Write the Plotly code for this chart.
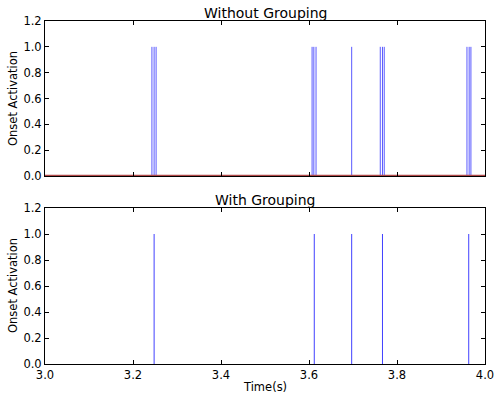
import plotly.graph_objects as go

# Onset times (s) detected without grouping
onsets_ungrouped = [3.243, 3.248, 3.2525,
                    3.607, 3.611, 3.616,
                    3.697,
                    3.762, 3.767, 3.771,
                    3.959, 3.964, 3.968]
# Onset times (s) after grouping
onsets_grouped = [3.248, 3.612, 3.697, 3.767, 3.963]
onset_value = 1.0

# Zero-valued activation baseline (red) in the top panel
baseline_times = [3.0, 4.0]
baseline_values = [0.0, 0.0]

x_ticks = [3.0, 3.2, 3.4, 3.6, 3.8, 4.0]
y_ticks = [0.0, 0.2, 0.4, 0.6, 0.8, 1.0, 1.2]


def stems(times, value):
    xs, ys = [], []
    for t in times:
        xs += [t, t, None]
        ys += [0, value, None]
    return xs, ys


W, H = 496, 396
xdom = [45 / W, 485 / W]
ydom_top = [1 - 176 / H, 1 - 21 / H]
ydom_bot = [1 - 364 / H, 1 - 208 / H]

fig = go.Figure()

xs, ys = stems(onsets_ungrouped, onset_value)
fig.add_trace(go.Scatter(x=xs, y=ys, mode="lines", xaxis="x", yaxis="y",
                         line=dict(color="#5a5aff", width=1),
                         hoverinfo="skip", showlegend=False))
fig.add_trace(go.Scatter(x=baseline_times, y=baseline_values, mode="lines",
                         xaxis="x", yaxis="y",
                         line=dict(color="#b04848", width=2.5),
                         hoverinfo="skip", showlegend=False, cliponaxis=False))

xs2, ys2 = stems(onsets_grouped, onset_value)
fig.add_trace(go.Scatter(x=xs2, y=ys2, mode="lines", xaxis="x2", yaxis="y2",
                         line=dict(color="#4040ff", width=1),
                         hoverinfo="skip", showlegend=False))

font = dict(family="DejaVu Sans", size=11.5, color="black")

common_x = dict(range=[3.0, 4.0], tickvals=x_ticks, ticks="inside", ticklen=4,
                tickcolor="black", showline=True, linecolor="black", linewidth=1,
                mirror="ticks", showgrid=False, zeroline=False, tickfont=font,
                automargin=False)
common_y = dict(range=[0, 1.2], tickvals=y_ticks, ticktext=[f"{v:.1f}" for v in y_ticks],
                ticks="inside", ticklen=4, tickcolor="black", showline=True,
                linecolor="black", linewidth=1, mirror="ticks", showgrid=False,
                zeroline=False, tickfont=font, automargin=False)


def label(text, px, py, size=11.5, angle=0):
    return dict(text=text, x=px / W, y=1 - py / H, xref="paper", yref="paper",
                xanchor="center", yanchor="middle", showarrow=False, textangle=angle,
                font=dict(family="DejaVu Sans", size=size, color="black"))


xc = 0.5 * (45 + 485)
fig.update_layout(
    width=W, height=H,
    margin=dict(l=0, r=0, t=0, b=0, pad=0),
    paper_bgcolor="white", plot_bgcolor="white",
    font=font,
    xaxis=dict(common_x, domain=xdom, anchor="y", showticklabels=False),
    yaxis=dict(common_y, domain=ydom_top, anchor="x"),
    xaxis2=dict(common_x, domain=xdom, anchor="y2", tickformat=".1f"),
    yaxis2=dict(common_y, domain=ydom_bot, anchor="x2"),
    annotations=[
        label("Without Grouping", xc, 13, size=14),
        label("With Grouping", xc, 200, size=14),
        label("Onset Activation", 13, 99, angle=-90),
        label("Onset Activation", 13, 286, angle=-90),
        label("Time(s)", xc, 387),
    ],
)

fig.write_html("out.html", config={"displayModeBar": False},
               post_script="document.body.style.margin='0';document.body.style.overflow='hidden';")
